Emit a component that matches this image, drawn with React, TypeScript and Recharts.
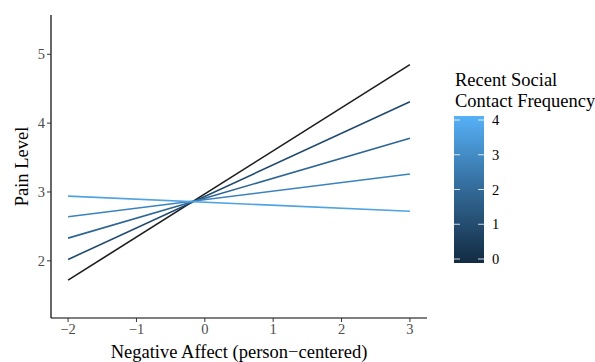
import { LineChart, Line, XAxis, YAxis, Label } from 'recharts'

const contactLevels = [0, 1, 2, 3, 4]
const affectEnds = [-2, 3]
const painAtLow = [1.72, 2.02, 2.33, 2.64, 2.94]
const painAtHigh = [4.85, 4.31, 3.78, 3.26, 2.72]
const xTicks = [-2, -1, 0, 1, 2, 3]
const yTicks = [2, 3, 4, 5]
const legendTicks = [0, 1, 2, 3, 4]

const lineColors = ['#1c1c1c', '#1f4a6d', '#2d6593', '#3b83c0', '#4fa3e2']
const font = '"Liberation Serif", "Times New Roman", serif'

const series = contactLevels.map((level, i) => ({
  name: `contact-${level}`,
  color: lineColors[i],
  data: [
    { x: affectEnds[0], y: painAtLow[i] },
    { x: affectEnds[1], y: painAtHigh[i] },
  ],
}))

function ColorBar() {
  const top = 116
  const bottom = 263
  const v0 = 259
  const v4 = 120
  const scale = (v: number) => v0 + (v4 - v0) * (v / 4)
  return (
    <svg width={595} height={362} style={{ position: 'absolute', left: 0, top: 0, pointerEvents: 'none' }}>
      <defs>
        <linearGradient id="cbar" x1="0" y1="1" x2="0" y2="0">
          <stop offset="0%" stopColor="#132B43" />
          <stop offset="50%" stopColor="#336A98" />
          <stop offset="100%" stopColor="#56B1F7" />
        </linearGradient>
      </defs>
      <text x={455} y={86} fontSize={18.5} fill="#000">Recent Social</text>
      <text x={455} y={107} fontSize={18.5} fill="#000">Contact Frequency</text>
      <rect x={454} y={top} width={30} height={bottom - top} fill="url(#cbar)" />
      {legendTicks.map((t) => (
        <g key={t}>
          <line x1={454} x2={460} y1={scale(t)} y2={scale(t)} stroke="#fff" strokeOpacity={0.8} strokeWidth={1} />
          <line x1={478} x2={484} y1={scale(t)} y2={scale(t)} stroke="#fff" strokeOpacity={0.8} strokeWidth={1} />
          <text x={492} y={scale(t) + 5} fontSize={14.5} fill="#000">{t}</text>
        </g>
      ))}
    </svg>
  )
}

export default function App() {
  return (
    <div style={{ position: 'absolute', left: 0, top: 0, width: 595, height: 362, background: '#fff', fontFamily: font }}>
      <LineChart width={595} height={362} margin={{ top: 15, right: 168, bottom: 0, left: 0 }} style={{ fontFamily: font }}>
        <XAxis
          type="number"
          dataKey="x"
          domain={[-2.25, 3.25]}
          ticks={xTicks}
          allowDataOverflow
          height={44}
          tickSize={4}
          tickFormatter={(v: number) => String(v).replace('-', '\u2212')}
          tick={{ fill: '#4d4d4d', fontSize: 14.5, fontFamily: font }}
          axisLine={{ stroke: '#000', strokeWidth: 1.2 }}
          tickLine={{ stroke: '#333', strokeWidth: 1 }}
        >
          <Label
            content={({ viewBox }: any) => (
              <text
                x={viewBox.x + viewBox.width / 2}
                y={358}
                textAnchor="middle"
                fontFamily={font}
                fontSize={18.5}
                fill="#000"
              >
                Negative Affect (person{'\u2212'}centered)
              </text>
            )}
          />
        </XAxis>
        <YAxis
          type="number"
          domain={[1.17, 5.57]}
          ticks={yTicks}
          allowDataOverflow
          width={51}
          tickSize={4}
          tick={{ fill: '#4d4d4d', fontSize: 14.5, fontFamily: font }}
          axisLine={{ stroke: '#000', strokeWidth: 1.2 }}
          tickLine={{ stroke: '#333', strokeWidth: 1 }}
        >
          <Label
            content={({ viewBox }: any) => (
              <text
                x={0}
                y={0}
                transform={`translate(28, ${viewBox.y + viewBox.height / 2}) rotate(-90)`}
                textAnchor="middle"
                fontFamily={font}
                fontSize={18.5}
                fill="#000"
              >
                Pain Level
              </text>
            )}
          />
        </YAxis>
        {series.map((s) => (
          <Line
            key={s.name}
            data={s.data}
            dataKey="y"
            type="linear"
            stroke={s.color}
            strokeWidth={1.6}
            dot={false}
            activeDot={false}
            isAnimationActive={false}
          />
        ))}
      </LineChart>
      <ColorBar />
    </div>
  )
}
